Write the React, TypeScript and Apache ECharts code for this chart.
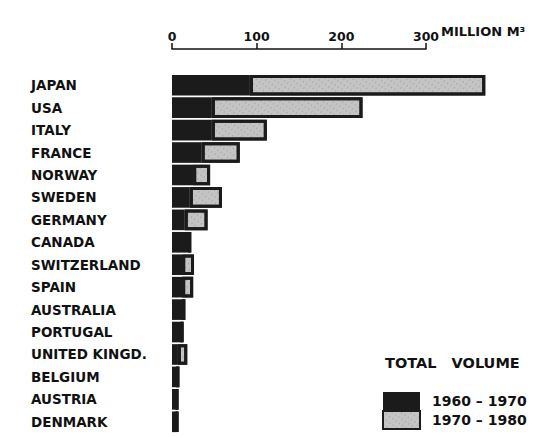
import React, { useEffect, useRef } from "react";
import * as echarts from "echarts";

const countries = [
  "JAPAN",
  "USA",
  "ITALY",
  "FRANCE",
  "NORWAY",
  "SWEDEN",
  "GERMANY",
  "CANADA",
  "SWITZERLAND",
  "SPAIN",
  "AUSTRALIA",
  "PORTUGAL",
  "UNITED KINGD.",
  "BELGIUM",
  "AUSTRIA",
  "DENMARK",
];
const vol1960to1970 = [92, 47, 47, 35, 25, 21, 15, 21, 12, 12, 14, 12, 7, 7, 6, 6];
const vol1970to1980 = [278, 178, 65, 45, 20, 38, 27, 0, 14, 13, 0, 0, 11, 0, 0, 0];
const xTicks = [0, 100, 200, 300];
const seriesNames = ["1960 – 1970", "1970 – 1980"];
const unitLabel = "MILLION M³";
const legendTitle = "TOTAL   VOLUME";

export default function App() {
  const ref = useRef<HTMLDivElement>(null);
  useEffect(() => {
    if (!ref.current) return;
    const chart = echarts.init(ref.current, null, { renderer: "svg" });
    const font = "DejaVu Sans";
    chart.setOption({
      animation: false,
      backgroundColor: "#ffffff",
      grid: { left: 172, right: 131, top: 74, bottom: 5, containLabel: false },
      xAxis: {
        type: "value",
        position: "top",
        offset: 25,
        min: xTicks[0],
        max: xTicks[xTicks.length - 1],
        interval: 100,
        splitLine: { show: false },
        axisLine: { show: true, lineStyle: { color: "#111", width: 1.5 } },
        axisTick: { show: true, length: 6, lineStyle: { color: "#111", width: 1.5 } },
        axisLabel: {
          color: "#111",
          fontFamily: font,
          fontWeight: "bold",
          fontSize: 12.5,
          margin: 6,
        },
      },
      yAxis: {
        type: "category",
        inverse: true,
        data: countries,
        axisLine: { show: false },
        axisTick: { show: false },
        axisLabel: {
          align: "left",
          margin: 141,
          color: "#111",
          fontFamily: font,
          fontWeight: "bold",
          fontSize: 13.5,
        },
      },
      legend: {
        orient: "vertical",
        left: 382,
        top: 392,
        padding: 0,
        itemWidth: 37,
        itemHeight: 18,
        itemGap: 0,
        icon: "rect",
        textStyle: {
          color: "#111",
          fontFamily: font,
          fontWeight: "bold",
          fontSize: 14,
          padding: [0, 0, 0, 7],
        },
        data: seriesNames,
      },
      graphic: [
        {
          type: "text",
          left: 441,
          top: 25,
          style: {
            text: unitLabel,
            fill: "#111",
            font: `bold 13px "${font}"`,
          },
        },
        {
          type: "text",
          left: 385,
          top: 355,
          style: {
            text: legendTitle,
            fill: "#111",
            font: `bold 14.5px "${font}"`,
          },
        },
      ],
      series: [
        {
          name: seriesNames[0],
          type: "bar",
          stack: "total",
          data: vol1960to1970,
          barCategoryGap: "8%",
          clip: false,
          itemStyle: { color: "#1b1b1b" },
        },
        {
          name: seriesNames[1],
          type: "bar",
          stack: "total",
          data: vol1970to1980,
          clip: false,
          itemStyle: {
            color: "#c4c4c4",
            borderColor: "#1b1b1b",
            borderWidth: 3,
            decal: {
              symbol: "rect",
              symbolSize: 0.6,
              color: "rgba(40,40,40,0.55)",
              dashArrayX: [1, 3],
              dashArrayY: [2, 3],
              rotation: 0.6,
            },
          },
        },
      ],
    });
    return () => chart.dispose();
  }, []);
  return (
    <div
      ref={ref}
      style={{ position: "absolute", left: 0, top: 0, width: 557, height: 438 }}
    />
  );
}
